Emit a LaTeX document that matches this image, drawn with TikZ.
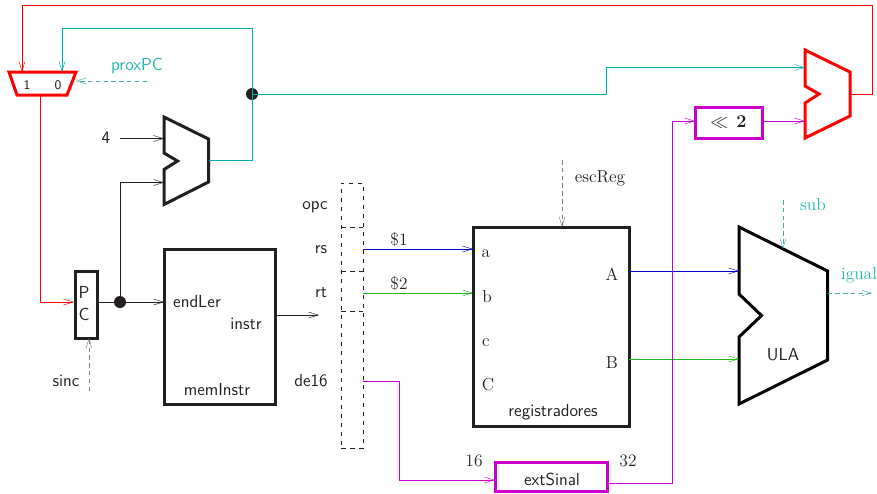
\documentclass[tikz,border=0pt]{standalone}
\usepackage{tikz}
\usetikzlibrary{arrows.meta}
\usetikzlibrary{positioning}
\definecolor{escuro}{HTML}{231F20}
\definecolor{ciano}{HTML}{00B0B0}
\definecolor{cianoTxt}{HTML}{22B8B0}
\definecolor{cianoTrc}{HTML}{45ADA8}
\definecolor{magenta2}{HTML}{CC00CC}
\definecolor{azul}{HTML}{0000CC}
\definecolor{verde}{HTML}{22BB22}
\newcommand{\tamanho}{\fontsize{11.6}{14}\selectfont}
\tikzset{
  >={Straight Barb[length=6.5pt,width=4pt,line width=0.3pt]},
  fio/.style={line width=0.6pt,->},
  ligacao/.style={line width=0.6pt},
  controle/.style={line width=0.6pt,dashed,dash pattern=on 3pt off 2.2pt,->},
  bloco/.style={draw=escuro,line width=2pt,rectangle,inner sep=0pt,outer sep=0pt},
  barra/.style={draw=escuro,line width=0.5pt,dashed,rectangle,inner sep=0pt,outer sep=0pt},
  soma/.style={line width=2pt,miter limit=10},
  sans/.style={font=\sffamily\tamanho,text=escuro,inner sep=0pt},
  serif/.style={font=\rmfamily\tamanho,text=escuro,inner sep=0pt},
  ponto/.style={circle,fill=escuro,inner sep=0pt,minimum size=8pt},
}
\begin{document}
\begin{tikzpicture}[x=0.6667pt,y=-0.6667pt]
\useasboundingbox (0,0) rectangle (877,493);
% blocos
\node[bloco,minimum width=15.33pt,minimum height=44.67pt] (pc) at (86.5,304.5) {};
\node[bloco,minimum width=74pt,minimum height=103.33pt] (memInstr) at (219.5,326.5) {};
\node[bloco,minimum width=104pt,minimum height=132.67pt] (regs) at (551,326.5) {};
\node[bloco,draw=magenta2,minimum width=74.67pt,minimum height=19.33pt] (extSinal) at (551,476.5) {};
\node[bloco,draw=magenta2,minimum width=44.67pt,minimum height=20.67pt,text=escuro,font=\tamanho] (desloca) at (728.5,122.5) {$\ll\mathbf{\,2}$};
\node[barra,minimum width=14.67pt,minimum height=176.67pt] (campos) at (352,315.5) {};
\node[inner sep=0pt,outer sep=0pt,minimum width=14.67pt,minimum height=29.33pt] (rs) at (352,249) {};
\node[inner sep=0pt,outer sep=0pt,minimum width=14.67pt,minimum height=26.67pt] (rt) at (352,291) {};
\draw[barra] (rs.north west) -- (rs.north east);
\draw[barra] (rs.south west) -- (rs.south east);
\draw[barra] (rt.south west) -- (rt.south east);
% somadores e ULA
\draw[soma,draw=escuro] (164,117) -- (208.5,139) -- (208.5,182) -- (164,204.5) -- (164,169.5) -- (177.5,161) -- (164,153) -- cycle;
\draw[soma,draw=red] (805,50) -- (850,72) -- (850,116) -- (805,138) -- (805,103) -- (819,94) -- (805,86) -- cycle;
\draw[soma,draw=black] (739,227) -- (827.5,271) -- (827.5,360) -- (739,404) -- (739,337) -- (761.5,315.5) -- (739,294) -- cycle;
\draw[line width=2pt,draw=red,line join=miter] (9,72) -- (76,72) -- (67,95) -- (17,95) -- cycle;
% portas
\coordinate (mux1) at (22,72);
\coordinate (mux0) at (62,72);
\coordinate (muxS) at (76,81);
\coordinate (muxB) at (40,95);
\coordinate (somaA) at (164,138.5);
\coordinate (somaB) at (164,182.5);
\coordinate (somaS) at (208.5,160);
\coordinate (desvA) at (805,67.5);
\coordinate (desvB) at (805,121);
\coordinate (desvS) at (850,94);
\coordinate (ulaA) at (739,271);
\coordinate (ulaB) at (739,359);
\coordinate (ulaC) at (783,249);
\coordinate (ulaS) at (827.5,293);
\coordinate (regA) at (473,249);
\coordinate (regB) at (473,293);
\coordinate (regSA) at (629,271);
\coordinate (regSB) at (629,359);
\coordinate (pcE) at (74,302);
\coordinate (pcD) at (98,302);
\coordinate (memE) at (164,302);
\coordinate (memD) at (275,315);
\coordinate (memFim) at (319,315);
\coordinate (de16S) at (363,381);
\coordinate (rtS) at (363,293);
\coordinate (extE) at (495,480);
\coordinate (extD) at (607,483);
\coordinate (desE) at (695,121);
\coordinate (desD) at (762,121);
\coordinate (quatro) at (120,138.5);
\coordinate (sincI) at (89,391);
\coordinate (proxI) at (147,81);
\coordinate (escI) at (562,160);
\coordinate (subI) at (783,200);
\coordinate (igualF) at (872,293);
\node[ponto] (noSoma) at (252,94) {};
\node[ponto] (noPC) at (120,302) {};
% ligacoes
\draw[fio,red] (desvS) -- (872,94) -- (872,5.5) -- (22,5.5) -- (mux1);
\draw[fio,red] (muxB) |- (pcE);
\draw[fio,ciano] (somaS) -| (252,28) -| (mux0);
\draw[fio,ciano] (noSoma.center) -- (606,94) |- (desvA);
\draw[fio,escuro] (quatro) -- (somaA);
\draw[fio,escuro] (noPC.center) |- (somaB);
\draw[ligacao,escuro] (pcD) -- (noPC);
\draw[fio,escuro] (noPC) -- (memE);
\draw[fio,escuro] (memD) -- (memFim);
\draw[fio,azul] (rs.east) -- (regA);
\draw[fio,verde] (rtS) -- (regB);
\draw[fio,azul] (regSA) -- (ulaA);
\draw[fio,verde] (regSB) -- (ulaB);
\draw[fio,magenta2] (de16S) -| (399,480) -- (extE);
\draw[fio,magenta2] (extD) -| (672,121) -- (desE);
\draw[fio,magenta2] (desD) -- (desvB);
\draw[controle,cianoTrc] (proxI) -- (muxS);
\draw[controle,gray] (sincI) -- (pc.south -| sincI);
\draw[controle,gray] (escI) -- (regs.north -| escI);
\draw[controle,cianoTrc] (subI) -- (ulaC);
\draw[controle,cianoTrc] (ulaS) -- (igualF);
% textos
\node[sans,font=\sffamily\fontsize{8.8}{10}\selectfont] (um) at (27,85) {1};
\node[sans,font=\sffamily\fontsize{8.8}{10}\selectfont] (zero) at (58,85) {0};
\node[sans,text=cianoTxt] (proxPC) at (137,66) {proxPC};
\node[sans] (rot4) at (106,138) {4};
\node[sans] (letraP) at (84,292) {P};
\node[sans] (letraC) at (84,314) {C};
\node[sans] (sinc) at (66,381) {sinc};
\node[sans] (endLer) at (197,302) {endLer};
\node[sans] (instr) at (246,324) {instr};
\node[sans] (rotMem) at (217,390) {memInstr};
\node[sans] (opc) at (315,207) {opc};
\node[sans] (rotRs) at (321,250) {rs};
\node[sans] (rotRt) at (321,293) {rt};
\node[sans] (de16) at (311,381) {de16};
\node[serif] (d1) at (399,239) {\$1};
\node[serif] (d2) at (399,283) {\$2};
\node[serif] (escReg) at (600,178) {escReg};
\node[serif] (pa) at (486,254) {a};
\node[serif] (pb) at (487,297) {b};
\node[serif] (pc2) at (486,343) {c};
\node[serif] (pC) at (488,385) {C};
\node[serif] (pA) at (612,274) {A};
\node[serif] (pB) at (612,363) {B};
\node[sans] (rotRegs) at (553,412) {registradores};
\node[serif] (r16) at (474,461) {16};
\node[serif] (r32) at (628,461) {32};
\node[sans] (rotExt) at (552,479) {extSinal};
\node[sans] (rotUla) at (783,355) {ULA};
\node[serif,text=cianoTxt] (sub) at (813,205) {sub};
\node[serif,text=cianoTxt] (igual) at (859,275) {igual};
\end{tikzpicture}
\end{document}
